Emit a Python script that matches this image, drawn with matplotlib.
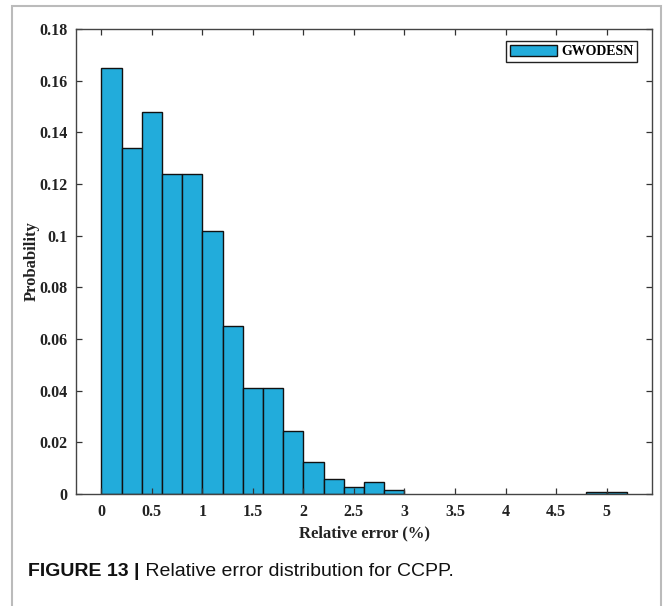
import matplotlib.pyplot as plt
from matplotlib.patches import Rectangle

# ================================
# data
# ================================
bin_left = [0.0, 0.2, 0.4, 0.6, 0.8, 1.0, 1.2, 1.4, 1.6, 1.8,
            2.0, 2.2, 2.4, 2.6, 2.8, 4.8, 5.0]
probability = [0.165, 0.134, 0.148, 0.124, 0.124, 0.102, 0.065, 0.041, 0.041, 0.0245,
               0.0125, 0.0058, 0.0027, 0.0047, 0.0016, 0.0008, 0.0008]
bin_width = 0.2
x_ticks = [0, 0.5, 1, 1.5, 2, 2.5, 3, 3.5, 4, 4.5, 5]
x_tick_labels = ["0", "0.5", "1", "1.5", "2", "2.5", "3", "3.5", "4", "4.5", "5"]
y_ticks = [0, 0.02, 0.04, 0.06, 0.08, 0.1, 0.12, 0.14, 0.16, 0.18]
y_tick_labels = ["0", "0.02", "0.04", "0.06", "0.08", "0.1", "0.12", "0.14", "0.16", "0.18"]
series_name = "GWODESN"
caption_bold = "FIGURE 13 |"
caption_text = " Relative error distribution for CCPP."

serif = "Liberation Serif"
sans = "Liberation Sans"
BAR_COLOR = "#22ACDB"

fig = plt.figure(figsize=(6.64, 6.06), dpi=100)
ax = fig.add_axes([0.1145, 0.1848, 0.8675, 0.7672])

ax.bar(bin_left, probability, width=bin_width, align="edge",
       color=BAR_COLOR, edgecolor="#111111", linewidth=1.0, label=series_name)

ax.set_xlim(-0.25, 5.45)
ax.set_ylim(0, 0.18)
ax.set_xticks(x_ticks)
ax.set_xticklabels(x_tick_labels)
ax.set_yticks(y_ticks)
ax.set_yticklabels(y_tick_labels)
ax.tick_params(direction="in", length=4, width=0.9, top=True, right=True,
               colors="#333333", labelcolor="#222222", pad=7)
ax.tick_params(axis="y", pad=6)
for lab in ax.get_xticklabels() + ax.get_yticklabels():
    lab.set_fontfamily(serif)
    lab.set_fontweight("bold")
    lab.set_fontsize(11.5)
for sp in ax.spines.values():
    sp.set_color("#444444")
    sp.set_linewidth(1.0)

ax.set_xlabel("Relative error (%)", fontfamily=serif, fontweight="bold",
              fontsize=12, color="#222222")
ax.set_ylabel("Probability", fontfamily=serif, fontweight="bold",
              fontsize=12, color="#222222")
ax.xaxis.set_label_coords(0.5, -0.068)
ax.yaxis.set_label_coords(-0.063, 0.5)

leg = ax.legend(loc="upper right", prop={"family": serif, "weight": "bold", "size": 10},
                handlelength=3.4, handleheight=0.9, handletextpad=0.3,
                borderpad=0.25, borderaxespad=0, fancybox=False, framealpha=1,
                bbox_to_anchor=(0.974, 0.974))
leg.get_frame().set_edgecolor("#222222")
leg.get_frame().set_linewidth(1.0)

# light grey frame around the figure panel (bottom runs off the image)
fig.patches.append(Rectangle((12 / 664, -0.05), (661 - 12) / 664, 1.05 - 6 / 606,
                             transform=fig.transFigure, fill=False,
                             edgecolor="#BBBBBB", linewidth=1.5))

# caption
t = fig.text(28 / 664, 1 - 572 / 606, caption_bold, fontfamily=sans,
             fontweight="bold", fontsize=14, va="center", ha="left", color="#111111")
fig.canvas.draw()
bb = t.get_window_extent()
fig.text(bb.x1 / fig.bbox.width, 1 - 572 / 606, caption_text,
         fontfamily=sans, fontsize=14, va="center", ha="left", color="#111111")

fig.savefig("out.png", dpi=100)
